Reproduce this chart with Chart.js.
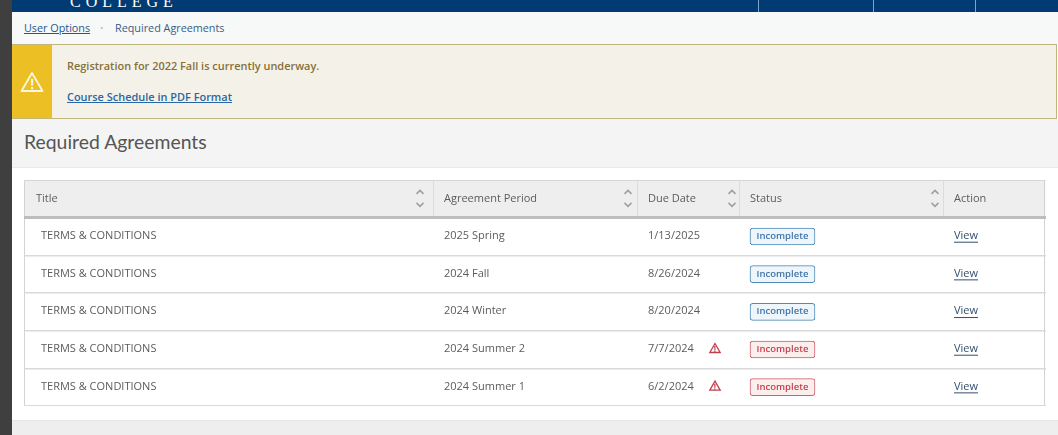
<!DOCTYPE html>
<html>
<head>
<meta charset="utf-8">
<title>Required Agreements</title>
<script src="https://cdn.jsdelivr.net/npm/chart.js@4"></script>
<style>
html, body { margin: 0; padding: 0; width: 1058px; height: 435px; overflow: hidden; background: #fff; font-family: "Open Sans", sans-serif; }
.abs { position: absolute; white-space: nowrap; }
a { color: #23578f; }
#table { position: absolute; left: 24px; top: 180px; }
</style>
</head>
<body>
<div class="abs" style="left:0;top:0;width:12px;height:435px;background:#3f3f3f"></div>
<div class="abs" style="left:12px;top:0;width:1046px;height:12px;background:#003b73;overflow:hidden">
  <span class="abs" style="left:58px;top:-7px;font:16px 'Liberation Serif',serif;letter-spacing:5px;color:#fff">COLLEGE</span>
  <div class="abs" style="left:746px;top:0;width:1px;height:12px;background:#7fa3c9"></div>
  <div class="abs" style="left:861px;top:0;width:1px;height:12px;background:#7fa3c9"></div>
  <div class="abs" style="left:963px;top:0;width:1px;height:12px;background:#7fa3c9"></div>
</div>
<div class="abs" style="left:12px;top:12px;width:1046px;height:32px;background:#f7f8f8"></div>
<a class="abs" href="#" style="left:24px;top:20px;font-size:10.8px;line-height:15px">User Options</a>
<span class="abs" style="left:100px;top:20px;font-size:9px;line-height:15px;color:#b8c0c8">&#8226;</span>
<span class="abs" style="left:115px;top:20px;font-size:10.8px;line-height:15px;color:#3a5f85">Required Agreements</span>

<div class="abs" style="left:12px;top:44px;width:1044px;height:73px;background:#f4f2e8;border:1px solid #c0b67e;border-width:1.5px 1.5px 1.5px 0"></div>
<div class="abs" style="left:12px;top:45px;width:40px;height:73px;background:#ecc025"></div>
<svg class="abs" style="left:20px;top:71px" width="24" height="22" viewBox="0 0 24 22">
  <path d="M12 2 L22.5 20 L1.5 20 Z" fill="none" stroke="#fbf6e0" stroke-width="1.8" stroke-linejoin="round"/>
  <rect x="11" y="8" width="2.2" height="6.5" fill="#fbf6e0"/><rect x="11" y="16" width="2.2" height="2.2" fill="#fbf6e0"/>
</svg>
<span class="abs" style="left:67px;top:58px;font-size:10.95px;line-height:15px;font-weight:600;color:#86703a">Registration for 2022 Fall is currently underway.</span>
<a class="abs" href="#" style="left:67px;top:89px;font-size:10.95px;line-height:15px;font-weight:600;color:#2a66a5">Course Schedule in PDF Format</a>

<div class="abs" style="left:12px;top:119px;width:1046px;height:48px;background:#f4f4f4;border-bottom:1px solid #e9e9e9"></div>
<span class="abs" style="left:24px;top:130px;font:19.4px Lato,sans-serif;color:#555555">Required Agreements</span>
<div class="abs" style="left:12px;top:420px;width:1046px;height:15px;background:#eeeeee;border-top:1px solid #e6e6e6"></div>

<canvas id="table" width="1022" height="226"></canvas>
<script>
// table content
const headers = ['Title', 'Agreement Period', 'Due Date', 'Status', 'Action'];
const titles = ['TERMS & CONDITIONS', 'TERMS & CONDITIONS', 'TERMS & CONDITIONS', 'TERMS & CONDITIONS', 'TERMS & CONDITIONS'];
const periods = ['2025 Spring', '2024 Fall', '2024 Winter', '2024 Summer 2', '2024 Summer 1'];
const dueDates = ['1/13/2025', '8/26/2024', '8/20/2024', '7/7/2024', '6/2/2024'];
const statuses = ['Incomplete', 'Incomplete', 'Incomplete', 'Incomplete', 'Incomplete'];
const actions = ['View', 'View', 'View', 'View', 'View'];
const overdue = [false, false, false, true, true];

// layout, x scale runs in page pixels
const left = 24, right = 1045;
const headerX = [36, 444, 648, 750, 954];
const cellX = [41, 444, 648, 750, 954];
const sepX = [433, 637, 739, 943];
const sortX = [420, 628, 732, 935];
const badge = [750, 815];
const warnX = 715;
const rowKeys = ['head'].concat(periods);

const tablePlugin = {
  id: 'tableText',
  afterDatasetsDraw(chart) {
    const ctx = chart.ctx, x = chart.scales.x, y = chart.scales.y;
    ctx.save();
    ctx.textBaseline = 'middle';
    ctx.textAlign = 'left';
    const hy = y.getPixelForValue(0);

    // outer border
    ctx.strokeStyle = '#d3d3d3';
    ctx.lineWidth = 1;
    ctx.strokeRect(x.getPixelForValue(left) + 0.5, y.top + 0.5, x.getPixelForValue(right) - x.getPixelForValue(left) - 1, y.bottom - y.top - 1);

    // header separators and sort arrows
    ctx.strokeStyle = '#dcdcdc';
    sepX.forEach(v => {
      ctx.beginPath();
      ctx.moveTo(x.getPixelForValue(v) + 0.5, y.top + 1);
      ctx.lineTo(x.getPixelForValue(v) + 0.5, hy + 17);
      ctx.stroke();
    });
    ctx.strokeStyle = '#a0a0a0';
    ctx.lineWidth = 1.6;
    sortX.forEach(v => {
      const px = x.getPixelForValue(v);
      ctx.beginPath();
      ctx.moveTo(px - 3.5, hy - 5); ctx.lineTo(px, hy - 8.5); ctx.lineTo(px + 3.5, hy - 5);
      ctx.moveTo(px - 3.5, hy + 4); ctx.lineTo(px, hy + 7.5); ctx.lineTo(px + 3.5, hy + 4);
      ctx.stroke();
    });

    ctx.font = '11px "Open Sans"';
    ctx.fillStyle = '#5c5c5c';
    headers.forEach((h, c) => ctx.fillText(h, x.getPixelForValue(headerX[c]), hy));

    titles.forEach((t, r) => {
      const py = y.getPixelForValue(r + 1) - 0.8;
      ctx.font = '11px "Open Sans"';
      ctx.fillStyle = '#5c5c5c';
      ctx.fillText(t, x.getPixelForValue(cellX[0]), py);
      ctx.fillText(periods[r], x.getPixelForValue(cellX[1]), py);
      ctx.fillText(dueDates[r], x.getPixelForValue(cellX[2]), py);

      // badge label
      const mid = x.getPixelForValue((badge[0] + badge[1]) / 2);
      ctx.font = '600 9.5px "Open Sans"';
      ctx.fillStyle = overdue[r] ? '#c23f4c' : '#3f74a8';
      ctx.textAlign = 'center';
      ctx.fillText(statuses[r], mid, py + 0.5);
      ctx.textAlign = 'left';

      // warning mark
      if (overdue[r]) {
        ctx.font = '700 8px "Open Sans"';
        ctx.textAlign = 'center';
        ctx.fillText('!', x.getPixelForValue(warnX), py + 1.5);
        ctx.textAlign = 'left';
      }

      // action link
      const ax = x.getPixelForValue(cellX[4]);
      ctx.font = '11px "Open Sans"';
      ctx.fillStyle = '#33506f';
      ctx.fillText(actions[r], ax, py);
      const w = ctx.measureText(actions[r]).width;
      ctx.fillRect(ax, py + 6, w, 1);
    });
    ctx.restore();
  }
};

new Chart(document.getElementById('table'), {
  type: 'bar',
  data: {
    labels: rowKeys,
    datasets: [
      {
        label: 'header',
        data: rowKeys.map((k, i) => i === 0 ? [left, right] : null),
        backgroundColor: '#eeeeee',
        barPercentage: 1,
        categoryPercentage: 1,
        grouped: false,
        order: 3
      },
      {
        label: 'status',
        data: rowKeys.map((k, i) => i === 0 ? null : badge),
        backgroundColor: [null].concat(overdue.map(o => o ? '#fdeeee' : '#eef6fc')),
        borderColor: [null].concat(overdue.map(o => o ? '#c9626c' : '#4d8ab8')),
        borderWidth: 1,
        borderSkipped: false,
        borderRadius: 3,
        barThickness: 17,
        grouped: false,
        order: 2
      },
      {
        type: 'line',
        label: 'overdue',
        data: [null].concat(overdue.map(o => o ? warnX : null)),
        showLine: false,
        pointStyle: 'triangle',
        pointRadius: 6,
        pointBorderWidth: 1.3,
        pointBackgroundColor: 'rgba(0,0,0,0)',
        pointBorderColor: '#c23f4c',
        order: 1
      }
    ]
  },
  plugins: [tablePlugin],
  options: {
    indexAxis: 'y',
    responsive: false,
    animation: false,
    events: [],
    layout: { padding: 0, autoPadding: false },
    plugins: { legend: { display: false }, tooltip: { enabled: false }, title: { display: false } },
    scales: {
      x: { type: 'linear', min: left, max: left + 1022, display: false },
      y: {
        type: 'category',
        ticks: { display: false },
        border: { display: false },
        grid: {
          z: 1,
          offset: true,
          drawTicks: false,
          color: ctx => ctx.index === 1 ? '#bdbdbd' : '#d9d9d9',
          lineWidth: ctx => ctx.index === 1 ? 3 : 1.5
        }
      }
    }
  }
});
</script>
</body>
</html>
